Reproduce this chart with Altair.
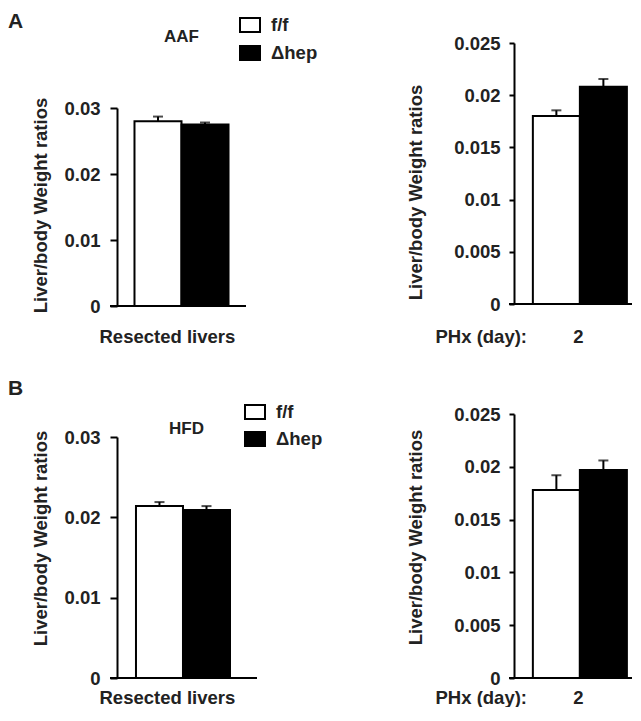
import altair as alt
import pandas as pd

# ---- data ----
groups = ["f/f", "Δhep"]
panel_letters = ["A", "B"]
diet_titles = ["AAF", "HFD"]
left_condition = "Resected livers"
right_condition = "2"
right_axis_title = "PHx (day):"
y_title = "Liver/body Weight ratios"

aaf_resected_mean = [0.0280, 0.0275]
aaf_resected_err = [0.0007, 0.0003]
aaf_phx_mean = [0.0180, 0.0208]
aaf_phx_err = [0.00055, 0.00075]
hfd_resected_mean = [0.0214, 0.0209]
hfd_resected_err = [0.0005, 0.0005]
hfd_phx_mean = [0.0178, 0.0197]
hfd_phx_err = [0.0014, 0.0009]

left_ticks = [0, 0.01, 0.02, 0.03]
right_ticks = [0, 0.005, 0.01, 0.015, 0.02, 0.025]

FONT = "Liberation Sans"
INK = "#222222"
RECT = "M-1,-0.7H1V0.7H-1Z"
FS = 18.5


def panel(cond, means, errs, ymax, ticks, width, height, yrange, tick_size,
          label_pad, title_x, title_y, x_axis, x_scale, legend, extras):
    df = pd.DataFrame({
        "cond": [cond] * len(groups),
        "group": groups,
        "mean": means,
        "top": [m + e for m, e in zip(means, errs)],
    })
    if yrange is not None:
        yscale = alt.Scale(domain=[0, ymax], nice=False, zero=True, range=yrange)
    else:
        yscale = alt.Scale(domain=[0, ymax], nice=False, zero=True)
    yaxis = alt.Axis(values=ticks, format="~g", tickSize=tick_size,
                     labelPadding=label_pad, titleAngle=270, titleAlign="center",
                     titleBaseline="alphabetic", titleX=title_x, titleY=title_y)
    x = alt.X("cond:N", scale=x_scale, axis=x_axis)
    xo = alt.XOffset("group:N", scale=alt.Scale(domain=groups, paddingInner=0, paddingOuter=0))
    base = alt.Chart(df)
    bars = base.mark_bar(stroke="black", strokeWidth=2).encode(
        x=x, xOffset=xo,
        y=alt.Y("mean:Q", scale=yscale, axis=yaxis, title=y_title),
        fill=alt.Fill("group:N", scale=alt.Scale(domain=groups, range=["white", "black"]),
                      legend=legend),
    )
    zero_line = base.mark_rule(color="black", strokeWidth=2).encode(
        y=alt.YDatum(0), x=alt.value(-tick_size), x2=alt.value(width)
    )
    err = base.mark_rule(color="black", strokeWidth=2).encode(
        x=x, xOffset=xo,
        y=alt.Y("mean:Q", scale=yscale, axis=yaxis, title=y_title),
        y2="top:Q",
    )
    cap = base.mark_tick(color="black", thickness=2, size=10).encode(
        x=x, xOffset=xo,
        y=alt.Y("top:Q", scale=yscale, axis=yaxis, title=y_title),
    )
    layers = [bars, zero_line, err, cap] + extras
    return alt.layer(*layers).properties(width=width, height=height)


def text_mark(txt, x, y, size, align="left", baseline="alphabetic", weight="bold"):
    return alt.Chart(pd.DataFrame({"t": [txt]})).mark_text(
        font=FONT, fontSize=size, fontWeight=weight, color=INK,
        align=align, baseline=baseline,
    ).encode(text="t:N", x=alt.value(x), y=alt.value(y))


def legend(lx, ly, row_pad):
    return alt.Legend(orient="none", legendX=lx, legendY=ly, title=None,
                      symbolType=RECT, symbolSize=400, symbolStrokeColor="black",
                      symbolStrokeWidth=2, labelFont=FONT, labelFontSize=FS,
                      labelFontWeight="bold", labelColor=INK, labelOffset=10,
                      rowPadding=row_pad, padding=0, offset=0)


left_xscale = alt.Scale(paddingInner=0, paddingOuter=0.186)
right_xscale = alt.Scale(paddingInner=0, paddingOuter=0.148, align=0.70)


def left_xaxis(ty):
    return alt.Axis(labels=False, ticks=False, domain=False, title=left_condition,
                    titleX=-18, titleY=ty, titleAlign="left", titleBaseline="alphabetic",
                    titleAngle=0)


def right_xaxis(ty):
    return alt.Axis(labels=True, ticks=False, tickSize=0, domain=False, title=right_axis_title,
                    labelAngle=0, labelBaseline="alphabetic", labelPadding=ty,
                    labelFont=FONT, labelFontSize=FS, labelFontWeight="bold", labelColor=INK,
                    titleX=-79, titleY=ty, titleAlign="left", titleBaseline="alphabetic",
                    titleAngle=0)


a_left = panel(left_condition, aaf_resected_mean, aaf_resected_err, 0.03, left_ticks,
               129, 263, [263, 65], 7, 10, -70.5, 162, left_xaxis(36), left_xscale,
               legend(122, -29, 6),
               [text_mark(panel_letters[0], -109, -32, 21, baseline="top"),
                text_mark(diet_titles[0], 64.5, -1, 17, align="center")])
a_right = panel(right_condition, aaf_phx_mean, aaf_phx_err, 0.025, right_ticks,
                118, 261, None, 5, 9, -93, 149, right_xaxis(38), right_xscale,
                None, [])
b_left = panel(left_condition, hfd_resected_mean, hfd_resected_err, 0.03, left_ticks,
               140, 264, [264, 23], 7, 10, -70.5, 124, left_xaxis(25), left_xscale,
               legend(127, -13, 5),
               [text_mark(panel_letters[1], -109, -36, 21, baseline="top"),
                text_mark(diet_titles[1], 69.5, 20, 17, align="center")])
b_right = panel(right_condition, hfd_phx_mean, hfd_phx_err, 0.025, right_ticks,
                118, 264, None, 5, 9, -93, 123, right_xaxis(25), right_xscale,
                None, [])

chart = alt.concat(
    a_left, a_right, b_left, b_right,
    columns=2, spacing={"row": 108, "column": 257}, bounds="flush",
).resolve_scale(fill="independent").resolve_legend(fill="independent").properties(
    padding={"top": 3, "left": 0, "right": 0, "bottom": 0}
).configure_view(stroke=None).configure_axis(
    grid=False, labelFont=FONT, titleFont=FONT, labelFontSize=FS, titleFontSize=FS,
    labelFontWeight="bold", titleFontWeight="bold", labelColor=INK, titleColor=INK,
    domainColor="black", tickColor="black", domainWidth=2, tickWidth=2,
)

chart.save("out.html", embed_options={"renderer": "svg", "actions": False})
